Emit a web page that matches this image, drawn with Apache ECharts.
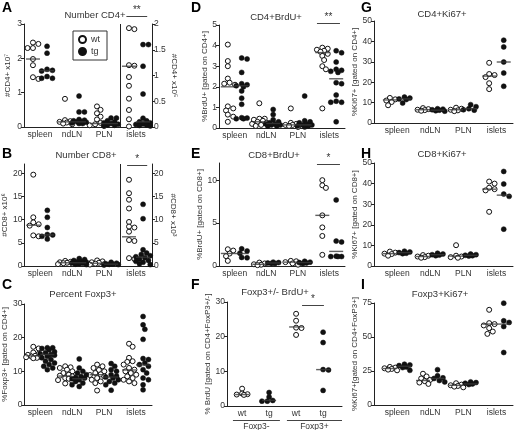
<!DOCTYPE html>
<html><head><meta charset="utf-8">
<script src="https://cdn.jsdelivr.net/npm/echarts@6/dist/echarts.min.js"></script>
<style>html,body{margin:0;padding:0;background:#fff}#c{width:515px;height:430px}</style>
</head><body><div id="c"></div>
<script>
// ---------------- DATA ----------------
const organs = ['spleen', 'ndLN', 'PLN', 'islets'];
const fCats = ['wt', 'tg', 'wt', 'tg'];
const fGroups = ['Foxp3-', 'Foxp3+'];

// A: Number CD4+ (spleen/ndLN/PLN on left axis x10^7, islets on right axis x10^5)
const A_wt = [[2.46, 2.42, 2.3, 2.3, 1.98, 1.8, 1.45, 1.4],
  [0.82, 0.2, 0.17, 0.15, 0.13, 0.1, 0.08],
  [0.6, 0.5, 0.4, 0.3, 0.22, 0.12, 0.08, 0.05, 0.03],
  [1.92, 1.9, 1.2, 1.19, 0.97, 0.8, 0.55, 0.33, 0.15, 0.01]];
const A_tg = [[2.35, 2.15, 1.68, 1.65, 1.63, 1.47, 1.42, 1.42],
  [0.9, 0.44, 0.44, 0.22, 0.2, 0.18, 0.16, 0.15, 0.14, 0.12, 0.1, 0.1],
  [0.26, 0.26, 0.18, 0.15, 0.12, 0.1, 0.08, 0.06, 0.05, 0.04],
  [1.6, 1.6, 1.18, 0.64, 0.17, 0.12, 0.1, 0.08, 0.06, 0.05, 0.04, 0.03, 0.02]];
const A_wtMed = [1.98, 0.15, 0.1, 1.18];
const A_tgMed = [1.64, 0.15, 0.1, 0.1];

// B: Number CD8+
const B_wt = [[19.7, 10.5, 9.4, 9.0, 8.7, 6.6, 6.4],
  [1.1, 0.9, 0.8, 0.7, 0.6, 0.5, 0.4],
  [1.2, 1.0, 0.8, 0.7, 0.5, 0.4, 0.3],
  [18.6, 15.7, 14.3, 12.4, 9.5, 8.5, 8.3, 7.4, 5.6, 5.4, 1.7, 1.5]];
const B_tg = [[12.0, 10.5, 8.3, 6.8, 6.7, 6.4, 5.8],
  [1.6, 1.4, 1.2, 1.0, 0.9, 0.8, 0.7, 0.6, 0.5, 0.4, 0.3],
  [0.8, 0.6, 0.5, 0.4, 0.35, 0.3, 0.2],
  [13.3, 10.2, 3.5, 2.8, 2.5, 2.2, 2.0, 1.8, 1.5, 1.2, 1.0, 0.8, 0.5, 0.3]];
const B_wtMed = [8.8, 0.7, 0.6, 6.3];
const B_tgMed = [6.7, 0.7, 0.4, 1.9];

// C: Percent Foxp3+
const C_wt = [[17.3, 16.8, 15.6, 15.2, 14.9, 14.6, 14.4, 14.3, 14.2, 14.0, 13.9],
  [11.5, 11.2, 11.0, 10.5, 10.0, 9.5, 9.0, 8.7, 8.5, 8.0, 7.8, 7.4, 7.0, 6.4],
  [12.0, 11.5, 11.0, 10.4, 10.0, 9.5, 9.1, 8.9, 8.5, 8.0, 7.5, 7.0, 6.5, 4.3],
  [18.2, 17.3, 14.0, 13.0, 12.8, 12.0, 11.0, 10.5, 10.0, 9.5, 9.0, 8.5, 8.0, 7.5, 7.0, 6.5]];
const C_tg = [[17.0, 17.0, 16.8, 16.4, 15.8, 15.5, 15.2, 15.0, 14.8, 14.5, 14.0, 13.5, 13.0, 12.5, 12.0, 11.5, 11.0, 10.5],
  [13.7, 11.0, 10.0, 9.5, 9.0, 8.5, 8.2, 8.0, 7.8, 7.5, 7.0, 6.5, 6.0, 5.5],
  [12.3, 11.5, 10.5, 10.0, 9.0, 8.6, 8.3, 8.0, 7.5, 7.0, 6.5, 6.0, 4.4],
  [26.3, 23.8, 22.5, 19.5, 13.8, 13.5, 12.5, 12.0, 11.5, 10.5, 9.5, 8.0, 7.5, 6.0, 4.5]];
const C_wtMed = [14.6, 8.6, 9.0, 10.4];
const C_tgMed = [15.0, 7.8, 8.3, 11.9];

// D: CD4+BrdU+
const D_wt = [[4.05, 3.25, 3.0, 2.4, 2.2, 2.15, 2.1, 1.05, 0.95, 0.85, 0.65, 0.55, 0.3],
  [1.2, 0.45, 0.45, 0.4, 0.35, 0.3, 0.25, 0.2, 0.15, 0.1],
  [0.95, 0.25, 0.2, 0.15, 0.15, 0.1, 0.05],
  [3.9, 3.85, 3.8, 3.75, 3.7, 3.6, 3.5, 3.3, 3.0, 2.85, 0.95]];
const D_tg = [[3.4, 3.35, 2.7, 2.15, 2.1, 2.05, 2.0, 1.8, 1.45, 1.15, 0.5, 0.48, 0.45, 0.45],
  [0.9, 0.65, 0.4, 0.3, 0.25, 0.2, 0.2, 0.15, 0.15, 0.1, 0.1],
  [1.55, 0.35, 0.3, 0.25, 0.2, 0.15, 0.15, 0.1, 0.1, 0.05],
  [3.75, 3.65, 3.2, 2.85, 2.8, 2.75, 2.7, 2.2, 2.15, 1.6, 1.3, 1.25, 1.25, 0.3]];
const D_wtMed = [2.0, 0.3, 0.15, 3.66];
const D_tgMed = [2.05, 0.22, 0.15, 2.39];

// E: CD8+BrdU+
const E_wt = [[1.95, 1.8, 1.45, 1.15, 0.6], [0.4, 0.3, 0.2, 0.15, 0.1], [0.6, 0.55, 0.45, 0.3, 0.15], [10.0, 9.4, 9.1, 5.9, 4.5, 3.5, 1.3]];
const E_tg = [[2.0, 1.75, 1.5, 1.0, 0.95], [0.45, 0.4, 0.35, 0.3, 0.3], [0.55, 0.45, 0.4, 0.35, 0.3], [7.7, 2.9, 2.8, 1.15, 1.1, 1.1, 1.1]];
const E_wtMed = [1.46, 0.2, 0.45, 5.9];
const E_tgMed = [1.45, 0.35, 0.4, 1.7];

// F: Foxp3+/- BrdU+ (wt Foxp3-, tg Foxp3-, wt Foxp3+, tg Foxp3+)
const F_vals = [[5.0, 3.6, 3.4, 3.3, 3.2], [3.9, 2.6, 1.6, 1.4, 1.4], [26.6, 24.6, 22.6, 22.5, 20.5], [21.3, 18.3, 10.5, 10.4, 4.5]];
const F_med = [3.3, 1.6, 22.8, 10.5];

// G: CD4+Ki67+
const G_wt = [[12.3, 11.6, 11.0, 10.3, 8.7], [7.3, 6.8, 6.5, 6.3, 6.0], [7.5, 7.0, 6.5, 6.2, 5.8], [29.5, 24.0, 23.5, 22.5, 19.5, 16.6]];
const G_tg = [[12.7, 12.2, 11.8, 11.5, 9.8], [7.0, 6.8, 6.5, 6.3, 6.0, 5.8], [9.0, 8.0, 7.0, 6.5, 6.3], [40.6, 37.3, 29.9, 24.5, 18.0]];
const G_wtMed = [11.3, 6.5, 6.5, 23.0];
const G_tgMed = [11.8, 6.3, 7.0, 29.9];

// H: CD8+Ki67+
const H_wt = [[7.0, 6.5, 6.0, 5.8, 5.0], [5.3, 5.0, 4.6, 4.3, 4.0], [10.1, 5.0, 4.6, 4.3, 4.0], [41.0, 40.0, 38.0, 37.3, 36.7, 26.3]];
const H_tg = [[7.2, 6.8, 6.5, 6.2, 6.0], [6.2, 5.8, 5.5, 5.3, 5.0], [5.8, 5.5, 5.2, 5.0, 4.8], [45.9, 39.8, 34.9, 33.8, 17.9]];
const H_wtMed = [6.0, 4.6, 4.8, 37.3];
const H_tgMed = [6.5, 5.5, 5.2, 34.4];

// I: Foxp3+Ki67+
const I_wt = [[28.0, 27.5, 27.0, 26.5, 26.0, 25.5], [23.0, 21.0, 19.5, 18.5, 17.5, 16.5, 15.5], [16.0, 15.0, 14.5, 14.0, 13.5, 13.0], [70.0, 60.2, 59.5, 58.5, 56.5, 54.0, 52.3]];
const I_tg = [[30.0, 29.5, 29.0, 28.0, 27.5, 25.5], [26.0, 21.5, 20.0, 19.5, 18.0, 17.0], [17.0, 16.5, 16.0, 15.5, 15.0], [74.9, 61.9, 60.7, 57.7, 38.6]];
const I_wtMed = [26.8, 18.0, 14.5, 59.5];
const I_tgMed = [28.5, 19.5, 15.5, 59.5];

// tick labels
const ticksA = [0, 1, 2, 3], ticksA2 = [0, 0.5, 1, 1.5, 2];
const ticksB = [0, 5, 10, 15, 20];
const ticksC = [0, 10, 20, 30];
const ticksD = [0, 1, 2, 3, 4, 5];
const ticksE = [0, 5, 10];
const ticksF = [0, 10, 20, 30];
const ticksGH = [0, 10, 20, 30, 40, 50];
const ticksI = [0, 25, 50, 75];

// ---------------- LAYOUT / STYLE ----------------
const FONT = '"Liberation Sans", Arial, sans-serif';
const TXT = '#333';
const LINE = '#222';
const OFF = 0.22;

function organGroups(wt, tg, wtMed, tgMed, rightIdx) {
  const g = [];
  for (let i = 0; i < 4; i++) {
    const ax = (rightIdx === i) ? 1 : 0;
    g.push({ vals: wt[i], med: wtMed[i], x: i - OFF, open: true, axis: ax });
    g.push({ vals: tg[i], med: tgMed[i], x: i + OFF, open: false, axis: ax });
  }
  return g;
}

const panels = [
  { letter: 'A', title: 'Number CD4+', tx: 95, ty: 10, lx: 2, ly: 1,
    grid: { left: 24, top: 24, width: 128, height: 103 }, xMin: -0.5, xMax: 3.5, cats: organs,
    y: { max: 3, ticks: ticksA, name: '#CD4+ x10\u2077', gap: 12 },
    y2: { max: 2, ticks: ticksA2, name: '#CD4+ x10\u2075', gap: 17 },
    groups: organGroups(A_wt, A_tg, A_wtMed, A_tgMed, 3), sep: 2.5,
    sig: { x: [2.7, 3.35], y: 3.23, text: '**' } },
  { letter: 'B', title: 'Number CD8+', tx: 86, ty: 150, lx: 2, ly: 147,
    grid: { left: 24, top: 164, width: 128, height: 102 }, xMin: -0.5, xMax: 3.5, cats: organs,
    y: { max: 22, ticks: ticksB, name: '#CD8+ x10\u2076', gap: 12 },
    y2: { max: 22, ticks: ticksB, name: '#CD8+ x10\u00b3', gap: 17 },
    groups: organGroups(B_wt, B_tg, B_wtMed, B_tgMed, 3), sep: 2.5,
    sig: { x: [2.72, 3.35], y: 21.8, text: '*' } },
  { letter: 'C', title: 'Percent Foxp3+', tx: 83, ty: 289, lx: 2, ly: 278,
    grid: { left: 24, top: 304, width: 128, height: 101 }, xMin: -0.5, xMax: 3.5, cats: organs,
    y: { max: 30, ticks: ticksC, name: '%Foxp3+ [gated on CD4+]', gap: 12 },
    groups: organGroups(C_wt, C_tg, C_wtMed, C_tgMed, -1) },
  { letter: 'D', title: 'CD4+BrdU+', tx: 276, ty: 12, lx: 191, ly: 1,
    grid: { left: 219, top: 25, width: 126, height: 103 }, xMin: -0.5, xMax: 3.5, cats: organs,
    y: { max: 5, ticks: ticksD, name: '%BrdU+ [gated on CD4+]', gap: 10 },
    groups: organGroups(D_wt, D_tg, D_wtMed, D_tgMed, -1),
    sig: { x: [2.61, 3.34], y: 5.1, text: '**' } },
  { letter: 'E', title: 'CD8+BrdU+', tx: 274, ty: 150, lx: 191, ly: 147,
    grid: { left: 219, top: 163, width: 126, height: 103 }, xMin: -0.5, xMax: 3.5, cats: organs,
    y: { max: 12, ticks: ticksE, name: '%BrdU+ [gated on CD8+]', gap: 13 },
    groups: organGroups(E_wt, E_tg, E_wtMed, E_tgMed, -1),
    sig: { x: [2.61, 3.34], y: 11.9, text: '*' } },
  { letter: 'F', title: 'Foxp3+/- BrdU+', tx: 275, ty: 287, lx: 191, ly: 278,
    grid: { left: 227, top: 302, width: 115, height: 104 }, xMin: -0.56, xMax: 3.7, cats: fCats,
    y: { max: 30, ticks: ticksF, name: '% BrdU [gated on CD4+FoxP3+/-]', gap: 13 },
    groups: F_vals.map((v, i) => ({ vals: v, med: F_med[i], x: i, open: i % 2 === 0, axis: 0 })),
    sig: { x: [2.22, 3.03], y: 29.1, text: '*' },
    under: [{ x: [-0.34, 1.4], text: fGroups[0] }, { x: [1.66, 3.7], text: fGroups[1] }] },
  { letter: 'G', title: 'CD4+Ki67+', tx: 442, ty: 9, lx: 361, ly: 1,
    grid: { left: 374, top: 21, width: 139, height: 102 }, xMin: -0.7, xMax: 3.5, cats: organs,
    y: { max: 50, ticks: ticksGH, name: '%Ki67+ [gated on CD4+]', gap: 13 },
    groups: organGroups(G_wt, G_tg, G_wtMed, G_tgMed, -1) },
  { letter: 'H', title: 'CD8+Ki67+', tx: 442, ty: 149, lx: 361, ly: 147,
    grid: { left: 374, top: 163, width: 139, height: 103 }, xMin: -0.7, xMax: 3.5, cats: organs,
    y: { max: 50, ticks: ticksGH, name: '%Ki67+ [gated on CD8+]', gap: 13 },
    groups: organGroups(H_wt, H_tg, H_wtMed, H_tgMed, -1) },
  { letter: 'I', title: 'Foxp3+Ki67+', tx: 440, ty: 289, lx: 361, ly: 278,
    grid: { left: 374, top: 303, width: 139, height: 102 }, xMin: -0.7, xMax: 3.5, cats: organs,
    y: { max: 75, ticks: ticksI, name: '%Ki67+[gated on CD4+FoxP3+]', gap: 13 },
    groups: organGroups(I_wt, I_tg, I_wtMed, I_tgMed, -1) }
];

// simple beeswarm layout (pixel space) so that points of a group do not pile up
function swarm(vals, center, pxY, pxX) {
  const d = 4.4, step = 1.8, maxOff = 7.5;
  const placed = [], out = [];
  vals.forEach(v => {
    const py = v * pxY;
    let best = 0, bestScore = -1;
    for (let k = 0; k < 40; k++) {
      const off = (k === 0 ? 0 : (k % 2 ? 1 : -1) * Math.ceil(k / 2) * step);
      if (Math.abs(off) > maxOff) break;
      let minD = Infinity;
      placed.forEach(p => { minD = Math.min(minD, Math.hypot(p[0] - off, p[1] - py)); });
      if (minD >= d) { best = off; bestScore = Infinity; break; }
      if (minD > bestScore) { bestScore = minD; best = off; }
    }
    placed.push([best, py]);
    out.push([center + best / pxX, v]);
  });
  return out;
}

const grids = [], xAxes = [], yAxes = [], series = [], titles = [];
const axisMap = [];

panels.forEach((p, gi) => {
  grids.push(p.grid);
  xAxes.push({
    gridIndex: gi, type: 'value', min: p.xMin, max: p.xMax,
    axisLine: { show: true, onZero: false, lineStyle: { color: LINE, width: 1 } },
    axisTick: { show: false }, splitLine: { show: false },
    axisLabel: { customValues: [0, 1, 2, 3], formatter: v => p.cats[Math.round(v)],
      fontSize: 8.5, color: TXT, margin: 3, fontFamily: FONT }
  });
  const yl = yAxes.length;
  const mkY = (cfg, pos) => ({
    gridIndex: gi, type: 'value', position: pos, min: 0, max: cfg.max,
    axisLine: { show: true, onZero: false, lineStyle: { color: LINE, width: 1 } },
    axisTick: { show: true, length: 3, customValues: cfg.ticks, lineStyle: { color: LINE } },
    axisLabel: { customValues: cfg.ticks, fontSize: 8.5, color: TXT, margin: 2, fontFamily: FONT },
    splitLine: { show: false },
    name: cfg.name, nameLocation: 'middle', nameGap: cfg.gap, nameRotate: pos === 'left' ? 90 : -90,
    nameTextStyle: { fontSize: 8, color: TXT, fontFamily: FONT }
  });
  yAxes.push(mkY(p.y, 'left'));
  if (p.y2) yAxes.push(mkY(p.y2, 'right'));
  axisMap.push([yl, p.y2 ? yl + 1 : yl]);

  const pxX = p.grid.width / (p.xMax - p.xMin);
  [0, 1].forEach(ax => {
    const cfg = ax === 0 ? p.y : p.y2;
    if (!cfg) return;
    const pxY = p.grid.height / cfg.max;
    const yi = axisMap[gi][ax];
    const openData = [], fillData = [], medData = [];
    p.groups.filter(g => g.axis === ax).forEach(g => {
      const pts = swarm(g.vals, g.x, pxY, pxX);
      (g.open ? openData : fillData).push(...pts);
      medData.push([g.x, g.med]);
    });
    const base = { type: 'scatter', xAxisIndex: gi, yAxisIndex: yi, symbolSize: 5, animation: false, silent: true };
    const s1 = Object.assign({}, base, { name: 'wt', data: openData, symbol: 'circle',
      itemStyle: { color: '#fff', borderColor: '#111', borderWidth: 1, opacity: 1 } });
    if (p.sep != null && ax === 0) {
      s1.markLine = { silent: true, symbol: ['none', 'none'], label: { show: false },
        lineStyle: { color: LINE, width: 1, type: 'solid' }, data: [{ xAxis: p.sep }] };
    }
    series.push(s1);
    series.push(Object.assign({}, base, { name: 'tg', data: fillData, symbol: 'circle',
      itemStyle: { color: '#111', borderColor: '#111', borderWidth: 0.5, opacity: 1 } }));
    series.push(Object.assign({}, base, { name: 'median', data: medData, symbol: 'rect', symbolSize: [14, 1.4], z: 5,
      itemStyle: { color: '#3a3a3a' } }));
  });

  titles.push({ text: p.title, left: p.tx, top: p.ty, textAlign: 'center', padding: 0,
    textStyle: { fontSize: 9.5, fontWeight: 'normal', color: TXT, fontFamily: FONT } });
  titles.push({ text: p.letter, left: p.lx, top: p.ly, padding: 0,
    textStyle: { fontSize: 14, fontWeight: 'bold', color: '#000', fontFamily: FONT } });
});

const chart = echarts.init(document.getElementById('c'), null, { renderer: 'canvas' });
chart.setOption({
  animation: false,
  backgroundColor: '#fff',
  title: titles,
  grid: grids, xAxis: xAxes, yAxis: yAxes, series: series,
  legend: { data: ['wt', 'tg'], left: 73, top: 31, orient: 'vertical', itemWidth: 7, itemHeight: 7,
    itemGap: 3, padding: [4, 7, 4, 5], borderColor: '#333', borderWidth: 1, selectedMode: false,
    textStyle: { fontSize: 9, color: TXT, fontFamily: FONT } }
});

// significance bars and group underlines, placed through the axes
const gfx = [];
panels.forEach((p, gi) => {
  const toPx = (x, y) => chart.convertToPixel({ xAxisIndex: gi, yAxisIndex: axisMap[gi][0] }, [x, y]);
  if (p.sig) {
    const a = toPx(p.sig.x[0], p.sig.y), b = toPx(p.sig.x[1], p.sig.y);
    gfx.push({ type: 'line', shape: { x1: a[0], y1: Math.round(a[1]) + 0.5, x2: b[0], y2: Math.round(a[1]) + 0.5 },
      style: { stroke: '#444', lineWidth: 1 }, silent: true });
    gfx.push({ type: 'text', x: (a[0] + b[0]) / 2, y: a[1] - 1,
      style: { text: p.sig.text, fontSize: 10, fill: '#333', align: 'center', verticalAlign: 'bottom', fontFamily: FONT } });
  }
  if (p.under) {
    p.under.forEach(u => {
      const a = toPx(u.x[0], 0), b = toPx(u.x[1], 0);
      const yy = a[1] + 14.5;
      gfx.push({ type: 'line', shape: { x1: a[0], y1: yy, x2: b[0], y2: yy }, style: { stroke: '#444', lineWidth: 1 }, silent: true });
      gfx.push({ type: 'text', x: (a[0] + b[0]) / 2, y: yy + 2,
        style: { text: u.text, fontSize: 8.5, fill: TXT, align: 'center', verticalAlign: 'top', fontFamily: FONT } });
    });
  }
});
chart.setOption({ graphic: gfx });
</script></body></html>
